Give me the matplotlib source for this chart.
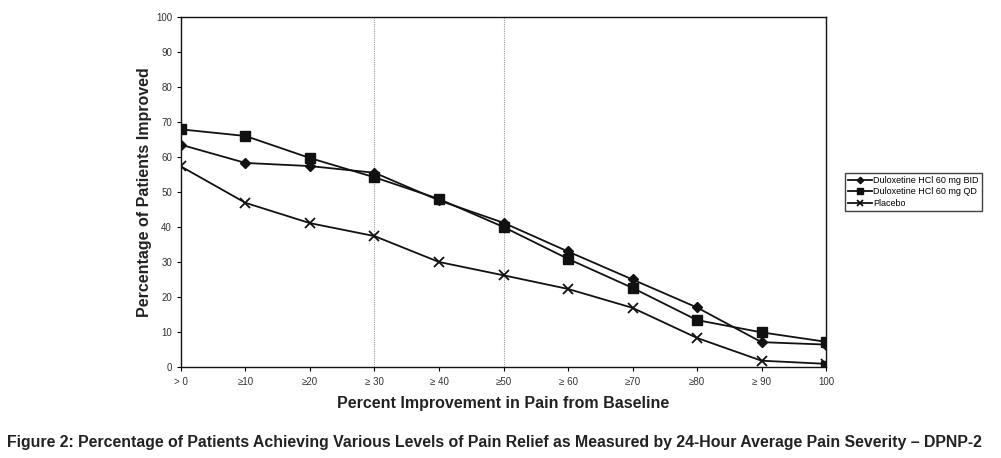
import matplotlib.pyplot as plt

categories = ["> 0", "≥10", "≥20", "≥ 30", "≥ 40", "≥50", "≥ 60", "≥70", "≥80", "≥ 90", "100"]
bid = [63.5, 58.3, 57.4, 55.5, 47.6, 41.2, 33.0, 25.0, 17.0, 7.1, 6.4]
qd = [67.9, 66.0, 59.7, 54.2, 48.0, 40.0, 30.9, 22.6, 13.4, 9.9, 7.2]
placebo = [57.3, 46.9, 41.1, 37.4, 30.0, 26.2, 22.3, 16.9, 8.3, 1.8, 0.9]
# stray square sitting on the axis at 100
extra_x = [10]
extra_y = [0.3]
dotted_at = [3, 5]

plt.rcParams['font.family'] = ['Liberation Sans', 'DejaVu Sans']

fig = plt.figure(figsize=(10.01, 4.58), dpi=100)
ax = fig.add_axes([0.1808, 0.1987, 0.6444, 0.7642])

x = list(range(len(categories)))
ax.plot(x, bid, color='#111111', lw=1.3, marker='D', ms=5.5, label='Duloxetine HCl 60 mg BID')
ax.plot(x, qd, color='#111111', lw=1.3, marker='s', ms=7.5, label='Duloxetine HCl 60 mg QD')
ax.plot(x, placebo, color='#111111', lw=1.3, marker='x', ms=7, mew=1.3, label='Placebo')
ax.plot(extra_x, extra_y, ls='none', marker='s', ms=7, color='#111111')

for d in dotted_at:
    ax.axvline(d, color='#999999', lw=0.8, ls=(0, (1, 1)), zorder=0)

ax.set_xlim(0, 10)
ax.set_ylim(0, 100)
ax.set_xticks(x)
ax.set_xticklabels(categories, fontsize=7, color='#333333')
ax.set_yticks(range(0, 101, 10))
ax.tick_params(axis='y', labelsize=7, length=3, labelcolor='#333333')
ax.tick_params(axis='x', length=3, pad=4)
for s in ax.spines.values():
    s.set_linewidth(1.0)
    s.set_color('#111111')

ax.set_ylabel('Percentage of Patients Improved', fontsize=11.5, fontweight='bold', color='#222222', labelpad=3)
ax.set_xlabel('Percent Improvement in Pain from Baseline', fontsize=11.5, fontweight='bold', color='#222222', labelpad=7)

fig.legend(loc='upper left', bbox_to_anchor=(0.840, 0.632), fontsize=6.5, frameon=True,
           fancybox=False, edgecolor='#111111', handlelength=2.6, markerscale=0.6,
           borderpad=0.3, labelspacing=0.3, handletextpad=0.2)

fig.text(0.4935, 0.033, 'Figure 2: Percentage of Patients Achieving Various Levels of Pain Relief as Measured by 24-Hour Average Pain Severity \u2013 DPNP-2',
         ha='center', va='center', fontsize=11.4, fontweight='bold', color='#222222')

fig.savefig('out.png', dpi=100)
